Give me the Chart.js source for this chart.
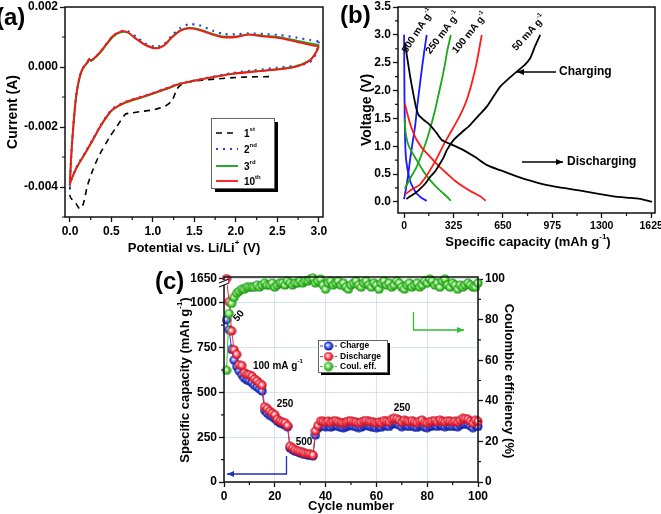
<!DOCTYPE html>
<html>
<head>
<meta charset="utf-8">
<script src="https://cdn.jsdelivr.net/npm/chart.js@4.4.1/dist/chart.umd.min.js"></script>
<style>
  body { margin: 0; background: #fff; width: 661px; height: 514px; position: relative; overflow: hidden; }
  canvas { position: absolute; }
  #ca { left: 0; top: 0; }
  #cb { left: 330px; top: 0; }
  #cc { left: 150px; top: 260px; }
</style>
</head>
<body>
<canvas id="ca" width="330" height="260"></canvas>
<canvas id="cb" width="331" height="260"></canvas>
<canvas id="cc" width="380" height="254"></canvas>
<script>
const FONT = '"Liberation Sans", Arial, sans-serif';

// ---- (a) cyclic voltammetry, potential in V, current in mA ----
const aPotTicks = [0, 0.5, 1.0, 1.5, 2.0, 2.5, 3.0];
const aCurTicks = [-0.004, -0.002, 0, 0.002];
const aLabels = [["1", "^st"], ["2", "^nd"], ["3", "^rd"], ["10", "^th"]];

const pot1 = [2.40, 2.20, 2.00, 1.80, 1.60, 1.45, 1.35, 1.29, 1.23, 1.15, 1.00, 0.84, 0.72, 0.67, 0.56, 0.48, 0.36, 0.28, 0.21, 0.16, 0.12, 0.06, 0.02, 0.00, 0.00];
const cur1 = [-0.32, -0.33, -0.35, -0.39, -0.44, -0.49, -0.57, -0.73, -1.12, -1.30, -1.43, -1.49, -1.54, -1.57, -2.00, -2.33, -2.90, -3.40, -3.96, -4.57, -4.73, -4.50, -4.40, -4.30, -4.00];

const pot2 = [3.00, 2.97, 2.92, 2.80, 2.50, 2.20, 1.96, 1.55, 1.31, 1.15, 0.91, 0.67, 0.52, 0.45, 0.36, 0.28, 0.20, 0.08, 0.01, 0.00, 0.02, 0.05, 0.08, 0.12, 0.16, 0.21, 0.23, 0.25, 0.28, 0.36, 0.44, 0.52, 0.62, 0.70, 0.80, 0.91, 1.03, 1.13, 1.23, 1.33, 1.43, 1.55, 1.73, 1.85, 2.01, 2.15, 2.33, 2.53, 2.73, 2.89, 3.00];
const cur2 = [0.85, 0.50, 0.22, 0.07, -0.02, -0.12, -0.20, -0.42, -0.56, -0.72, -0.95, -1.16, -1.38, -1.60, -1.98, -2.38, -2.77, -3.33, -3.80, -3.95, -2.75, -1.65, -0.86, -0.30, -0.02, 0.15, 0.26, 0.21, 0.26, 0.48, 0.77, 1.04, 1.20, 1.19, 1.00, 0.78, 0.67, 0.75, 1.05, 1.30, 1.42, 1.40, 1.20, 1.10, 1.09, 1.12, 1.10, 1.06, 0.98, 0.90, 0.85];

const pot3 = [3.00, 2.97, 2.89, 2.69, 2.36, 1.96, 1.55, 1.31, 1.15, 0.91, 0.67, 0.52, 0.45, 0.36, 0.28, 0.20, 0.08, 0.01, 0.00, 0.02, 0.05, 0.08, 0.12, 0.16, 0.21, 0.23, 0.25, 0.28, 0.36, 0.44, 0.52, 0.62, 0.70, 0.80, 0.91, 1.03, 1.13, 1.23, 1.33, 1.43, 1.55, 1.73, 1.85, 2.01, 2.15, 2.33, 2.53, 2.73, 2.89, 2.99, 3.00];
const cur3 = [0.75, 0.52, 0.23, 0.00, -0.11, -0.22, -0.43, -0.58, -0.75, -0.98, -1.19, -1.42, -1.64, -2.02, -2.42, -2.80, -3.36, -3.80, -3.90, -2.80, -1.70, -0.90, -0.33, -0.04, 0.14, 0.25, 0.20, 0.25, 0.46, 0.74, 1.01, 1.16, 1.14, 0.94, 0.74, 0.63, 0.72, 1.00, 1.22, 1.30, 1.26, 1.10, 1.02, 1.02, 1.09, 1.04, 0.99, 0.88, 0.79, 0.74, 0.75];

const pot10 = [3.00, 2.97, 2.89, 2.69, 2.36, 1.96, 1.55, 1.31, 1.15, 0.91, 0.67, 0.52, 0.45, 0.36, 0.28, 0.20, 0.08, 0.01, 0.00, 0.02, 0.05, 0.08, 0.12, 0.16, 0.21, 0.23, 0.25, 0.28, 0.36, 0.44, 0.52, 0.62, 0.70, 0.80, 0.91, 1.03, 1.13, 1.23, 1.33, 1.43, 1.55, 1.73, 1.85, 2.01, 2.15, 2.33, 2.53, 2.73, 2.89, 2.99, 3.00];
const cur10 = [0.69, 0.50, 0.21, -0.01, -0.12, -0.23, -0.43, -0.57, -0.73, -0.96, -1.17, -1.40, -1.62, -2.00, -2.40, -2.79, -3.35, -3.80, -3.90, -2.73, -1.62, -0.84, -0.29, -0.01, 0.16, 0.27, 0.22, 0.27, 0.49, 0.77, 1.04, 1.19, 1.15, 0.93, 0.73, 0.62, 0.71, 0.99, 1.21, 1.29, 1.24, 1.07, 0.99, 1.00, 1.08, 1.02, 0.96, 0.84, 0.74, 0.69, 0.69];

// ---- (b) charge / discharge profiles, capacity in mAh/g, voltage in V ----
const bCapTicks = [0, 325, 650, 975, 1300, 1625];
const bVoltTicks = [0, 0.5, 1.0, 1.5, 2.0, 2.5, 3.0, 3.5];

const capD50 = [5, 20, 40, 60, 80, 95, 130, 171, 210, 248, 320, 390, 470, 545, 630, 718, 830, 940, 1050, 1160, 1270, 1377, 1487, 1560, 1630];
const vD50 = [2.85, 2.60, 2.25, 1.95, 1.68, 1.56, 1.47, 1.38, 1.25, 1.11, 1.02, 0.93, 0.80, 0.66, 0.57, 0.48, 0.38, 0.30, 0.25, 0.20, 0.15, 0.10, 0.07, 0.05, 0.00];
const capC50 = [15, 40, 70, 100, 140, 171, 205, 237, 260, 281, 325, 380, 434, 490, 544, 590, 632, 690, 741, 790, 829, 862, 895];
const vC50 = [0.05, 0.10, 0.15, 0.22, 0.33, 0.45, 0.55, 0.69, 0.80, 0.93, 1.11, 1.25, 1.38, 1.55, 1.71, 1.90, 2.07, 2.22, 2.34, 2.45, 2.58, 2.80, 3.00];

const capD100 = [5, 20, 39, 60, 83, 120, 171, 225, 281, 335, 390, 445, 500, 537];
const vD100 = [1.77, 1.60, 1.41, 1.25, 1.11, 0.96, 0.81, 0.65, 0.51, 0.38, 0.27, 0.18, 0.10, 0.02];
const capC100 = [5, 50, 100, 135, 171, 215, 259, 300, 346, 380, 412, 435, 456, 475, 489, 511];
const vC100 = [0.13, 0.22, 0.30, 0.42, 0.57, 0.78, 1.02, 1.22, 1.44, 1.62, 1.83, 2.03, 2.25, 2.47, 2.67, 3.00];

const capD250 = [3, 10, 25, 50, 83, 125, 171, 215, 259, 290, 307];
const vD250 = [1.50, 1.25, 1.05, 0.90, 0.75, 0.56, 0.39, 0.26, 0.15, 0.07, 0.02];
const capC250 = [5, 40, 83, 115, 149, 178, 204, 226, 248, 268, 285, 298, 307];
const vC250 = [0.24, 0.42, 0.63, 0.85, 1.11, 1.38, 1.65, 1.92, 2.19, 2.46, 2.73, 2.88, 3.00];

const capD500 = [0, 1, 3, 6, 12, 25, 39, 60, 83, 115, 149];
const vD500 = [3.00, 2.50, 1.80, 1.20, 0.80, 0.55, 0.38, 0.25, 0.15, 0.07, 0.02];
const capC500 = [0, 10, 25, 39, 55, 72, 88, 105, 120, 134, 149];
const vC500 = [0.05, 0.20, 0.45, 0.75, 1.05, 1.35, 1.75, 2.13, 2.45, 2.73, 3.00];

// ---- (c) rate performance over 100 cycles ----
const cycles = Array.from({ length: 100 }, (_, i) => i + 1);
const cycleTicks = [0, 20, 40, 60, 80, 100];
const capTickVals = [0, 250, 500, 750, 1000, 1650];
const effTicks = [0, 20, 40, 60, 80, 100];

const charge = [905, 850, 740, 680, 645, 620, 600, 580, 570, 565, 555, 540, 530, 520, 508, 400, 385, 372, 365, 355,
  340, 330, 325, 318, 308, 190, 180, 172, 168, 162, 158, 154, 150, 148, 145, 262, 300, 318,
  312, 308, 315, 306, 312, 318, 310, 305, 303, 308, 314, 316, 311, 309, 304, 306, 314, 318, 312, 309,
  306, 303, 309, 306, 316, 313, 310, 322, 328, 326, 318, 308, 318, 313, 310, 316, 309, 305, 313, 318,
  306, 303, 310, 313, 316, 310, 318, 313, 309, 315, 313, 310, 313, 308, 318, 326, 325, 322, 313, 303, 316, 310];
const discharge = [1650, 1030, 843, 738, 712, 655, 650, 610, 600, 598, 590, 575, 565, 550, 540, 420, 410, 395, 385, 375,
  350, 340, 335, 330, 315, 200, 190, 180, 175, 170, 165, 160, 158, 155, 150, 285, 315, 340,
  338, 335, 340, 333, 338, 342, 336, 332, 330, 335, 340, 342, 337, 335, 330, 333, 340, 343, 338, 336,
  333, 330, 335, 332, 343, 340, 337, 350, 355, 353, 345, 335, 345, 340, 337, 343, 336, 332, 340, 345,
  333, 330, 337, 340, 343, 337, 345, 340, 336, 342, 340, 337, 340, 335, 345, 355, 353, 350, 340, 330, 345, 338];
const coulEff = [55, 83, 88, 91, 93, 94, 95, 95, 96, 96, 96, 96, 97, 96, 97, 98, 97, 97, 98, 96,
  97, 98, 98, 97, 99, 98, 97, 98, 98, 99, 98, 99, 99, 100, 100.5, 98, 99, 100, 97, 95,
  98, 99, 97, 98, 99, 97, 98, 96, 95, 97, 98, 99, 97, 96, 98, 99, 97, 96, 98, 97,
  95, 98, 99, 97, 98, 96, 97, 99, 98, 96, 95, 97, 98, 96, 97, 98, 96, 97, 99, 98,
  100, 99, 97, 98, 96, 99, 100, 97, 96, 98, 97, 95, 97, 96, 97, 98, 97, 96, 96, 98];

// broken capacity axis: 1000..1650 is squeezed into the top strip
const brk = v => (v <= 1000 ? v : 1000 + (v - 1000) * 0.2077);

// ---------- helpers ----------
const xy = (xs, ys, k = 1) => xs.map((x, i) => ({ x, y: ys[i] * k }));

function axis(pos, min, max, ticks, fmt, size, fontSize, extra) {
  return Object.assign({
    type: "linear",
    position: pos,
    min,
    max,
    afterBuildTicks: (s) => { s.ticks = ticks.map((v) => ({ value: v })); },
    afterFit: (s) => {
      if (s.isHorizontal()) { s.height = size; s.paddingLeft = 0; s.paddingRight = 0; }
      else { s.width = size; s.paddingTop = 0; s.paddingBottom = 0; }
    },
    ticks: {
      callback: fmt,
      color: "#000",
      font: { family: FONT, size: fontSize || 12, weight: "bold" },
      padding: 2,
      autoSkip: false,
      maxRotation: 0,
    },
    grid: { drawOnChartArea: false, tickLength: 5, tickColor: "#111", tickWidth: 1.3 },
    border: { display: false },
  }, extra || {});
}

function rich(ctx, x, y, parts, size, align, rot) {
  ctx.save();
  ctx.translate(x, y);
  if (rot) ctx.rotate(rot);
  ctx.textBaseline = "middle";
  ctx.textAlign = "left";
  ctx.fillStyle = "#000";
  const sup = Math.round(size * 0.62);
  const segs = parts.map((p) => {
    const s = p.startsWith("^");
    const text = s ? p.slice(1) : p;
    ctx.font = "bold " + (s ? sup : size) + "px " + FONT;
    return { text, s, w: ctx.measureText(text).width };
  });
  const total = segs.reduce((a, g) => a + g.w, 0);
  let cx = align === "center" ? -total / 2 : align === "right" ? -total : 0;
  for (const g of segs) {
    ctx.font = "bold " + (g.s ? sup : size) + "px " + FONT;
    ctx.fillText(g.text, cx, g.s ? -size * 0.42 : 0);
    cx += g.w;
  }
  ctx.restore();
}

function arrow(ctx, pts, color) {
  ctx.save();
  ctx.strokeStyle = color;
  ctx.fillStyle = color;
  ctx.lineWidth = 1.3;
  ctx.beginPath();
  pts.forEach((p, i) => (i ? ctx.lineTo(p[0], p[1]) : ctx.moveTo(p[0], p[1])));
  ctx.stroke();
  const [x1, y1] = pts[pts.length - 2];
  const [x2, y2] = pts[pts.length - 1];
  const a = Math.atan2(y2 - y1, x2 - x1);
  ctx.beginPath();
  ctx.moveTo(x2, y2);
  ctx.lineTo(x2 - 7 * Math.cos(a) + 3 * Math.sin(a), y2 - 7 * Math.sin(a) - 3 * Math.cos(a));
  ctx.lineTo(x2 - 7 * Math.cos(a) - 3 * Math.sin(a), y2 - 7 * Math.sin(a) + 3 * Math.cos(a));
  ctx.closePath();
  ctx.fill();
  ctx.restore();
}

function frame(ctx, area) {
  ctx.save();
  ctx.strokeStyle = "#111";
  ctx.lineWidth = 1.5;
  ctx.strokeRect(area.left, area.top, area.right - area.left, area.bottom - area.top);
  ctx.restore();
}

function minor(ctx, scale, vals, side) {
  ctx.save();
  ctx.strokeStyle = "#111";
  ctx.lineWidth = 1.2;
  ctx.beginPath();
  vals.forEach((v) => {
    const p = scale.getPixelForValue(v);
    if (side === "bottom") { ctx.moveTo(p, scale.top); ctx.lineTo(p, scale.top + 3); }
    if (side === "left") { ctx.moveTo(scale.right, p); ctx.lineTo(scale.right - 3, p); }
    if (side === "right") { ctx.moveTo(scale.left, p); ctx.lineTo(scale.left + 3, p); }
  });
  ctx.stroke();
  ctx.restore();
}

function panelLabel(ctx, text, x, y) {
  ctx.save();
  ctx.font = "bold 24px " + FONT;
  ctx.fillStyle = "#000";
  ctx.textBaseline = "middle";
  ctx.fillText(text, x, y);
  ctx.restore();
}

function legendBox(ctx, x, y, w, h, sh) {
  ctx.save();
  ctx.fillStyle = "#000";
  ctx.fillRect(x + sh, y + sh, w, h);
  ctx.fillStyle = "#fff";
  ctx.fillRect(x, y, w, h);
  ctx.strokeStyle = "#666";
  ctx.lineWidth = 1;
  ctx.strokeRect(x + 0.5, y + 0.5, w, h);
  ctx.restore();
}

function ball(col, light, dark) {
  const c = document.createElement("canvas");
  c.width = 10;
  c.height = 10;
  const g2 = c.getContext("2d");
  const g = g2.createRadialGradient(4, 4, 0.3, 5, 5, 4.8);
  g.addColorStop(0, "#ffffff");
  g.addColorStop(0.3, light);
  g.addColorStop(0.65, col);
  g.addColorStop(1, dark);
  g2.fillStyle = g;
  g2.beginPath();
  g2.arc(5, 5, 4.6, 0, Math.PI * 2);
  g2.fill();
  return c;
}

const blueBall = ball("#2438d8", "#8fa0ff", "#0c1680");
const redBall = ball("#f4283a", "#ff9aa4", "#a80818");
const greenBall = ball("#3cc42c", "#a8f096", "#177a0e");

// ---------- (a) ----------
const aStyles = [
  { c: "#000", w: 1.6, dash: [6, 5] },
  { c: "#2b3fd8", w: 2.2, dash: [2, 5] },
  { c: "#14a014", w: 1.8, dash: [] },
  { c: "#ff1414", w: 1.8, dash: [] },
];
const aSeries = [[pot1, cur1], [pot2, cur2], [pot3, cur3], [pot10, cur10]];

new Chart(document.getElementById("ca"), {
  type: "scatter",
  data: {
    datasets: aSeries.map(([p, c], i) => ({
      label: aLabels[i].join(""),
      data: xy(p, c, 0.001),
      showLine: true,
      tension: 0.25,
      pointRadius: 0,
      borderColor: aStyles[i].c,
      borderWidth: aStyles[i].w,
      borderDash: aStyles[i].dash,
      order: 3 - i,
    })),
  },
  options: {
    responsive: false,
    animation: false,
    layout: { padding: { top: 7, right: 7, left: 0, bottom: 0 } },
    plugins: { legend: { display: false }, tooltip: { enabled: false } },
    scales: {
      x: axis("bottom", -0.06, 3.05, aPotTicks, (v) => v.toFixed(1), 43),
      y: axis("left", -0.005, 0.002, aCurTicks, (v) => v.toFixed(3), 65),
    },
  },
  plugins: [{
    id: "decoA",
    afterDraw(chart) {
      const ctx = chart.ctx;
      const { x, y } = chart.scales;
      frame(ctx, chart.chartArea);
      minor(ctx, x, [0.25, 0.75, 1.25, 1.75, 2.25, 2.75], "bottom");
      minor(ctx, y, [-0.005, -0.003, -0.001, 0.001], "left");
      rich(ctx, 13, 112, ["Current (A)"], 14, "center", -Math.PI / 2);
      rich(ctx, 194, 248, ["Potential vs. Li/Li", "^+", " (V)"], 13, "center");
      panelLabel(ctx, "(a)", -4, 18);
      legendBox(ctx, 211, 118, 63, 70, 4);
      const rows = [133, 149, 166, 181];
      aStyles.forEach((s, i) => {
        ctx.save();
        ctx.strokeStyle = s.c;
        ctx.lineWidth = s.w;
        ctx.setLineDash(s.dash);
        ctx.beginPath();
        ctx.moveTo(216, rows[i]);
        ctx.lineTo(238, rows[i]);
        ctx.stroke();
        ctx.restore();
        rich(ctx, 244, rows[i] + 1, aLabels[i], 10, "left");
      });
    },
  }],
});

// ---------- (b) ----------
const bRates = [
  { cap: [capD50, capC50], v: [vD50, vC50], c: "#000000" },
  { cap: [capD100, capC100], v: [vD100, vC100], c: "#ff1a1a" },
  { cap: [capD250, capC250], v: [vD250, vC250], c: "#18a818" },
  { cap: [capD500, capC500], v: [vD500, vC500], c: "#1a1aff" },
];
const bDatasets = [];
bRates.forEach((r) => {
  [0, 1].forEach((k) => {
    bDatasets.push({
      data: xy(r.cap[k], r.v[k]),
      showLine: true,
      tension: 0.2,
      pointRadius: 0,
      borderColor: r.c,
      borderWidth: 1.8,
    });
  });
});

new Chart(document.getElementById("cb"), {
  type: "scatter",
  data: { datasets: bDatasets },
  options: {
    responsive: false,
    animation: false,
    layout: { padding: { top: 7, right: 6, left: 0, bottom: 0 } },
    plugins: { legend: { display: false }, tooltip: { enabled: false } },
    scales: {
      x: axis("bottom", -40, 1650, bCapTicks, (v) => String(v), 47, 10.5),
      y: axis("left", -0.2, 3.5, bVoltTicks, (v) => v.toFixed(1), 68),
    },
  },
  plugins: [{
    id: "decoB",
    afterDraw(chart) {
      const ctx = chart.ctx;
      const { x, y } = chart.scales;
      frame(ctx, chart.chartArea);
      minor(ctx, x, [162.5, 487.5, 812.5, 1137.5, 1462.5], "bottom");
      minor(ctx, y, [0.25, 0.75, 1.25, 1.75, 2.25, 2.75, 3.25], "left");
      rich(ctx, 37, 110, ["Voltage (V)"], 14, "center", -Math.PI / 2);
      rich(ctx, 198, 242, ["Specific capacity (mAh g", "^-1", ")"], 13, "center");
      panelLabel(ctx, "(b)", 10, 16);
      rich(ctx, 88, 31, ["500 mA g", "^-1"], 10, "center", -57 * Math.PI / 180);
      rich(ctx, 113, 33, ["250 mA g", "^-1"], 10, "center", -53 * Math.PI / 180);
      rich(ctx, 140, 33, ["100 mA g", "^-1"], 10, "center", -51 * Math.PI / 180);
      rich(ctx, 199, 33, ["50 mA g", "^-1"], 10, "center", -48 * Math.PI / 180);
      arrow(ctx, [[226, 72], [187, 72]], "#000");
      rich(ctx, 229, 72, ["Charging"], 12, "left");
      arrow(ctx, [[192, 162], [233, 162]], "#000");
      rich(ctx, 237, 162, ["Discharging"], 12, "left");
    },
  }],
});

// ---------- (c) ----------
const faint = "rgba(190,208,230,0.6)";
new Chart(document.getElementById("cc"), {
  type: "scatter",
  data: {
    datasets: [
      {
        data: cycles.map((c, i) => ({ x: c, y: charge[i] })),
        yAxisID: "y",
        showLine: true,
        borderColor: "#2438d8",
        borderWidth: 1,
        pointStyle: blueBall,
        pointRadius: 4.5,
        order: 2,
      },
      {
        data: cycles.map((c, i) => ({ x: c, y: brk(discharge[i]) })),
        yAxisID: "y",
        showLine: true,
        borderColor: "#f4283a",
        borderWidth: 1,
        pointStyle: redBall,
        pointRadius: 4.5,
        order: 1,
      },
      {
        data: cycles.map((c, i) => ({ x: c, y: coulEff[i] })),
        yAxisID: "y2",
        showLine: true,
        borderColor: "#3cc42c",
        borderWidth: 1,
        pointStyle: greenBall,
        pointRadius: 4.5,
        order: 0,
      },
    ],
  },
  options: {
    responsive: false,
    animation: false,
    clip: false,
    layout: { padding: { top: 17, right: 0, left: 0, bottom: 0 } },
    plugins: { legend: { display: false }, tooltip: { enabled: false } },
    scales: {
      x: axis("bottom", 0, 100, cycleTicks, (v) => String(v), 32, 12, {
        grid: { drawOnChartArea: true, color: faint, tickLength: 5, tickColor: "#111", tickWidth: 1.3 },
      }),
      y: axis("left", 0, 1144, capTickVals.map(brk), (v, i) => String(capTickVals[i]), 74, 12, {
        grid: { drawOnChartArea: true, color: faint, tickLength: 5, tickColor: "#111", tickWidth: 1.3 },
      }),
      y2: axis("right", 0, 101, effTicks, (v) => String(v), 52),
    },
  },
  plugins: [{
    id: "decoC",
    afterDraw(chart) {
      const ctx = chart.ctx;
      const { x, y, y2 } = chart.scales;
      frame(ctx, chart.chartArea);
      minor(ctx, x, [10, 30, 50, 70, 90], "bottom");
      minor(ctx, y, [125, 375, 625, 875], "left");
      minor(ctx, y2, [10, 30, 50, 70, 90], "right");
      // axis break mark
      ctx.save();
      ctx.fillStyle = "#fff";
      ctx.fillRect(70, 20, 8, 5);
      ctx.strokeStyle = "#111";
      ctx.lineWidth = 1.2;
      ctx.beginPath();
      ctx.moveTo(69, 23); ctx.lineTo(79, 19);
      ctx.moveTo(69, 27); ctx.lineTo(79, 23);
      ctx.stroke();
      ctx.restore();
      rich(ctx, 35, 120, ["Specific capacity (mAh g", "^-1", ")"], 13, "center", -Math.PI / 2);
      rich(ctx, 359, 121, ["Coulombic efficiency (%)"], 13, "center", Math.PI / 2);
      rich(ctx, 201, 246, ["Cycle number"], 13, "center");
      panelLabel(ctx, "(c)", 5, 22);
      rich(ctx, 89, 56, ["50"], 10, "center", -50 * Math.PI / 180);
      rich(ctx, 103, 106, ["100 mA g", "^-1"], 10, "left");
      rich(ctx, 135, 144, ["250"], 10, "center");
      rich(ctx, 154, 182, ["500"], 10, "center");
      rich(ctx, 252, 148, ["250"], 10, "center");
      arrow(ctx, [[136.5, 196], [136.5, 214], [77, 214]], "#2030c0");
      arrow(ctx, [[263.5, 52], [263.5, 70], [314, 70]], "#30c030");
      legendBox(ctx, 168, 80, 69, 32, 3);
      const rows = [86, 96.5, 106.5];
      const cols = ["#2438d8", "#f4283a", "#3cc42c"];
      const balls = [blueBall, redBall, greenBall];
      const names = ["Charge", "Discharge", "Coul. eff."];
      rows.forEach((ry, i) => {
        ctx.save();
        ctx.strokeStyle = cols[i];
        ctx.lineWidth = 1.2;
        ctx.setLineDash([3, 2]);
        ctx.beginPath();
        ctx.moveTo(170, ry);
        ctx.lineTo(187, ry);
        ctx.stroke();
        ctx.restore();
        ctx.drawImage(balls[i], 173.5, ry - 5);
        rich(ctx, 190, ry, [names[i]], 8.5, "left");
      });
    },
  }],
});
</script>
</body>
</html>
